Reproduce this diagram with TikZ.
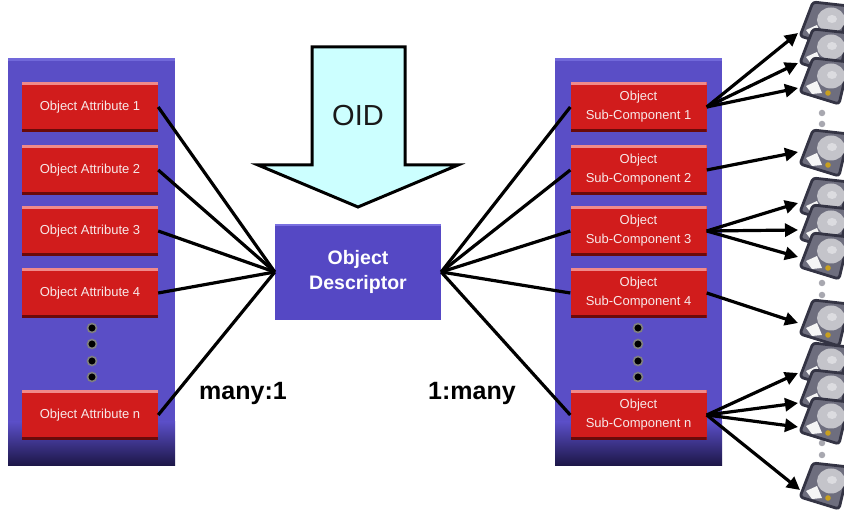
\documentclass[tikz,border=0pt]{standalone}
\usepackage{fontspec}
\setmainfont{Liberation Sans}
\usetikzlibrary{arrows.meta}

\definecolor{panelc}{HTML}{5A4EC6}
\definecolor{panelhi}{HTML}{7168DA}
\definecolor{paneldark}{HTML}{1C1646}
\definecolor{descc}{HTML}{5548C4}
\definecolor{deschi}{HTML}{7A70E0}
\definecolor{boxred}{HTML}{D11C1C}
\definecolor{boxhi}{HTML}{F08A8A}
\definecolor{boxlo}{HTML}{6A0A0A}
\definecolor{boxtext}{HTML}{F7E8E8}
\definecolor{oidfill}{HTML}{CCFFFF}
\definecolor{hddedge}{HTML}{343444}
\definecolor{hddbody}{HTML}{6E6E7E}
\definecolor{platter}{HTML}{C4C4CA}
\definecolor{hub}{HTML}{DCDCE0}
\definecolor{gold}{HTML}{C8A020}
\definecolor{sepdot}{HTML}{A8A8B0}

\tikzset{
  panel/.style={fill=panelc, minimum width=167pt, minimum height=408pt, inner sep=0pt,
    path picture={
      \fill[panelhi] (path picture bounding box.north west) rectangle ([yshift=-3pt]path picture bounding box.north east);
      \shade[top color=panelc, bottom color=paneldark] ([yshift=44pt]path picture bounding box.south west) rectangle (path picture bounding box.south east);
    }},
  redbox/.style={fill=boxred, minimum width=136pt, minimum height=50pt, inner sep=0pt,
    text=boxtext, align=center, font=\fontsize{13}{19}\selectfont,
    path picture={
      \fill[boxhi] (path picture bounding box.north west) rectangle ([yshift=-3pt]path picture bounding box.north east);
      \fill[boxlo] (path picture bounding box.south west) rectangle ([yshift=3pt]path picture bounding box.south east);
    }},
  descbox/.style={fill=descc, minimum width=166pt, minimum height=96pt, inner sep=0pt,
    text=white, align=center, font=\bfseries\fontsize{19.5}{25}\selectfont,
    path picture={
      \fill[deschi] (path picture bounding box.north west) rectangle ([yshift=-2pt]path picture bounding box.north east);
    }},
  vdot/.style={circle, fill=black, draw=gray, line width=1.6pt, minimum size=9pt, inner sep=0pt},
  sdot/.style={circle, fill=sepdot, minimum size=6.5pt, inner sep=0pt},
  link/.style={line width=3.2pt, black},
  darrow/.style={line width=3.2pt, black, -{Triangle[length=13pt,width=13pt]}},
  oidarrow/.style={fill=oidfill, draw=black, line width=3pt, line join=miter},
  ratio/.style={font=\bfseries\fontsize{25}{28}\selectfont},
  hdd/.pic={
    \filldraw[draw=hddedge, fill=hddbody, line width=2.8pt, line join=round, rounded corners=3pt]
      (-13,-22) -- (23,-18) -- (13,24) -- (-26,12) -- cycle;
    \fill[platter] (5,-4) ellipse (14pt and 12.5pt);
    \fill[hub] (6,-5) ellipse (5pt and 4pt);
    \fill[white!92!gray] (-20,6) -- (-9,1) -- (-4,13) -- (-14,14) -- cycle;
    \fill[gold] (2,13) circle (2.8pt);
  }
}

\begin{document}
\begin{tikzpicture}[x=1pt, y=-1pt]
\clip (0,0) rectangle (844,518);
\fill[white] (0,0) rectangle (844,518);

% side panels
\node[panel] (lp) at (91.5,262) {};
\node[panel] (rp) at (638.5,262) {};

% attribute boxes
\node[redbox] (a1) at (90,107) {Object Attribute 1};
\node[redbox] (a2) at (90,170) {Object Attribute 2};
\node[redbox] (a3) at (90,231) {Object Attribute 3};
\node[redbox] (a4) at (90,293) {Object Attribute 4};
\node[redbox] (an) at (90,415) {Object Attribute n};

% sub-component boxes
\node[redbox] (s1) at (638.5,107) {Object\\Sub-Component 1};
\node[redbox] (s2) at (638.5,170) {Object\\Sub-Component 2};
\node[redbox] (s3) at (638.5,231) {Object\\Sub-Component 3};
\node[redbox] (s4) at (638.5,293) {Object\\Sub-Component 4};
\node[redbox] (sn) at (638.5,415) {Object\\Sub-Component n};

% ellipsis dots
\foreach \y/\k in {328/1,344/2,361/3,377/4} {
  \node[vdot] (ld\k) at (92,\y) {};
  \node[vdot] (rd\k) at (638,\y) {};
}

% descriptor
\node[descbox] (od) at (358,272) {Object\\Descriptor};

% OID block arrow
\draw[oidarrow] (312,47) -- (405,47) -- (405,165) -- (458,165) -- (358,207) -- (258,165) -- (312,165) -- cycle;
\node[font=\fontsize{29}{32}\selectfont, text=black!90] (oid) at (358,116) {OID};

% many-to-one and one-to-many links
\foreach \n in {a1,a2,a3,a4,an} \draw[link] (\n.east) -- (od.west);
\foreach \n in {s1,s2,s3,s4,sn} \draw[link] (od.east) -- (\n.west);

\node[ratio] (lblA) at (243,393) {many:1};
\node[ratio] (lblB) at (472,393) {1:many};

% separators between disk groups
\foreach \y/\k in {113/1,124/2,283/3,295/4,443/5,455/6} \node[sdot] (g\k) at (822,\y) {};

% disks
\foreach \y in {24,51,80,152,200,227,255,322,365,392,420,485} \pic at (826,\y) {hdd};

% arrow targets on the disks
\coordinate (t1) at (798,33);
\coordinate (t2) at (798,63);
\coordinate (t3) at (798,88);
\coordinate (t4) at (798,152);
\coordinate (t5) at (798,203);
\coordinate (t6) at (798,230);
\coordinate (t7) at (798,257);
\coordinate (t8) at (798,323);
\coordinate (t9) at (798,373);
\coordinate (t10) at (798,403);
\coordinate (t11) at (798,427);
\coordinate (t12) at (800,490);

\foreach \t in {t1,t2,t3} \draw[darrow] (s1.east) -- (\t);
\draw[darrow] (s2.east) -- (t4);
\foreach \t in {t5,t6,t7} \draw[darrow] (s3.east) -- (\t);
\draw[darrow] (s4.east) -- (t8);
\foreach \t in {t9,t10,t11,t12} \draw[darrow] (sn.east) -- (\t);
\end{tikzpicture}
\end{document}
